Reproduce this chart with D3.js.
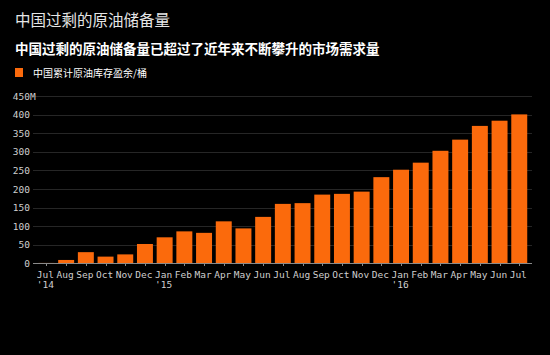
<!DOCTYPE html>
<html>
<head>
<meta charset="utf-8">
<script src="https://cdn.jsdelivr.net/npm/d3@7"></script>
<style>
html,body{margin:0;padding:0;background:#000;}
svg{display:block;}
</style>
</head>
<body>
<svg id="chart" width="550" height="355"></svg>
<script>
const months = ["Jul","Aug","Sep","Oct","Nov","Dec","Jan","Feb","Mar","Apr","May","Jun","Jul","Aug","Sep","Oct","Nov","Dec","Jan","Feb","Mar","Apr","May","Jun","Jul"];
const yearLabels = ["'14","","","","","","'15","","","","","","","","","","","","'16","","","","","",""];
const values = [1,9,30,18,24,52,70,86,82,113,94,125,160,162,185,187,193,232,252,271,303,333,370,384,401];
const yTicks = [0,50,100,150,200,250,300,350,400,450];
const title = "中国过剩的原油储备量";
const subtitle = "中国过剩的原油储备量已超过了近年来不断攀升的市场需求量";
const legendLabel = "中国累计原油库存盈余/桶";

const svg = d3.select("#chart");
const W = 550, H = 355;
svg.append("rect").attr("width", W).attr("height", H).attr("fill", "#000");

const cjk = "'Noto Sans CJK SC', 'Noto Sans', sans-serif";
const mono = "'DejaVu Sans Mono', 'Liberation Mono', monospace";

svg.append("text").attr("x", 15).attr("y", 26)
  .attr("fill", "#e6e6e6").attr("font-family", cjk).attr("font-size", 15.5)
  .text(title);
svg.append("text").attr("x", 15).attr("y", 54)
  .attr("fill", "#ffffff").attr("font-family", cjk).attr("font-size", 13.5).attr("font-weight", "bold")
  .text(subtitle);
svg.append("rect").attr("x", 15).attr("y", 68).attr("width", 8).attr("height", 9).attr("fill", "#fb6a0c");
svg.append("text").attr("x", 33).attr("y", 76.5)
  .attr("fill", "#ffffff").attr("font-family", cjk).attr("font-size", 10)
  .text(legendLabel);

const x = d3.scaleBand().domain(d3.range(values.length)).range([36.6, 529.1])
  .paddingInner(0.19).paddingOuter(0.095);
const y = d3.scaleLinear().domain([0, 450]).range([263.3, 96.2]);

const gridX0 = 33, gridX1 = 532;
// gridlines
svg.append("g").selectAll("line").data(yTicks.filter(d => d > 0)).join("line")
  .attr("x1", gridX0).attr("x2", gridX1)
  .attr("y1", d => Math.round(y(d)) + 0.5).attr("y2", d => Math.round(y(d)) + 0.5)
  .attr("stroke", "#262626").attr("stroke-width", 1);

// y labels
svg.append("g").selectAll("text").data(yTicks).join("text")
  .attr("x", 30).attr("y", d => y(d) + 3.5)
  .attr("text-anchor", "end")
  .attr("fill", "#cfcfcf").attr("font-family", mono).attr("font-size", 9.5)
  .text(d => d);
svg.append("text").attr("x", 30).attr("y", y(450) + 3.5)
  .attr("fill", "#cfcfcf").attr("font-family", mono).attr("font-size", 9.5)
  .text("M");

// bars
svg.append("g").selectAll("rect").data(values).join("rect")
  .attr("x", (d, i) => x(i)).attr("width", x.bandwidth())
  .attr("y", d => y(d)).attr("height", d => y(0) - y(d))
  .attr("fill", "#fb6a0c");

// baseline
svg.append("line").attr("x1", gridX0).attr("x2", gridX1)
  .attr("y1", Math.round(y(0)) + 0.5).attr("y2", Math.round(y(0)) + 0.5)
  .attr("stroke", "#8a8a8a").attr("stroke-width", 1);

// tick marks
svg.append("g").selectAll("line").data(values).join("line")
  .attr("x1", (d, i) => Math.round(x(i) + x.bandwidth() / 2) + 0.5)
  .attr("x2", (d, i) => Math.round(x(i) + x.bandwidth() / 2) + 0.5)
  .attr("y1", Math.round(y(0)) + 1).attr("y2", Math.round(y(0)) + 3)
  .attr("stroke", "#8a8a8a").attr("stroke-width", 1);

// x labels
svg.append("g").selectAll("text").data(months).join("text")
  .attr("x", (d, i) => x(i) + x.bandwidth() / 2 - 1).attr("y", 278)
  .attr("text-anchor", "middle")
  .attr("fill", "#cfcfcf").attr("font-family", mono).attr("font-size", 9.5)
  .text(d => d);
svg.append("g").selectAll("text").data(yearLabels).join("text")
  .attr("x", (d, i) => x(i) + x.bandwidth() / 2 - 1).attr("y", 288)
  .attr("text-anchor", "middle")
  .attr("fill", "#cfcfcf").attr("font-family", mono).attr("font-size", 9.5)
  .text(d => d);
</script>
</body>
</html>
